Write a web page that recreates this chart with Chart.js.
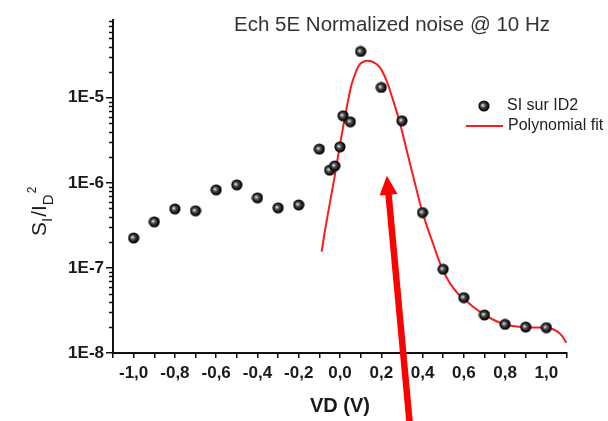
<!DOCTYPE html>
<html>
<head>
<meta charset="utf-8">
<title>Ech 5E Normalized noise @ 10 Hz</title>
<script src="https://cdn.jsdelivr.net/npm/chart.js@4.4.1/dist/chart.umd.min.js"></script>
<style>
  html, body { margin: 0; padding: 0; background: #ffffff; }
  #noiseChart { display: block; }
</style>
</head>
<body>
<canvas id="noiseChart" width="608" height="421"></canvas>
<script>
// ==========================================
// DATA
// ==========================================

// measured points: SI sur ID2
const vd = [-1.0, -0.9, -0.8, -0.7, -0.6, -0.5, -0.4, -0.3, -0.2, -0.1, -0.05, -0.025, 0.0, 0.015, 0.05, 0.1, 0.2, 0.3, 0.4, 0.5, 0.6, 0.7, 0.8, 0.9, 1.0];
const siSurId2 = [2.25e-7, 3.48e-7, 4.94e-7, 4.69e-7, 8.27e-7, 9.47e-7, 6.66e-7, 5.08e-7, 5.5e-7, 2.49e-6, 1.41e-6, 1.58e-6, 2.65e-6, 6.14e-6, 5.22e-6, 3.5e-5, 1.32e-5, 5.36e-6, 4.48e-7, 9.64e-8, 4.48e-8, 2.8e-8, 2.17e-8, 2.02e-8, 1.99e-8];

// polynomial fit curve (sampled along the drawn line)
const fitVd = [-0.089, -0.073, -0.049, -0.025, -0.001, 0.024, 0.043, 0.057, 0.077, 0.096,
    0.116, 0.135, 0.154, 0.174, 0.193, 0.212, 0.227, 0.241, 0.261, 0.282,
    0.300, 0.319, 0.338, 0.358, 0.377, 0.400, 0.416, 0.435, 0.455, 0.474,
    0.497, 0.522, 0.547, 0.571, 0.596, 0.643, 0.698, 0.750, 0.798, 0.847,
    0.899, 0.944, 0.995, 1.026, 1.050, 1.074, 1.097];
const fitSi = [1.555e-7, 2.72e-7, 5.82e-7, 1.225e-6, 2.72e-6, 5.98e-6, 1.03e-5, 1.46e-5, 2.02e-5, 2.48e-5,
    2.67e-5, 2.72e-5, 2.67e-5, 2.51e-5, 2.27e-5, 1.89e-5, 1.56e-5, 1.24e-5, 8.74e-6, 5.98e-6,
    4.09e-6, 2.65e-6, 1.72e-6, 1.11e-6, 7.22e-7, 4.47e-7, 3.38e-7, 2.48e-7, 1.81e-7, 1.33e-7,
    9.65e-8, 7.32e-8, 5.9e-8, 5.01e-8, 4.44e-8, 3.52e-8, 2.84e-8, 2.41e-8, 2.18e-8, 2.06e-8,
    2.01e-8, 1.995e-8, 1.984e-8, 1.93e-8, 1.81e-8, 1.61e-8, 1.32e-8];

// tick labels
const xLabelValues = [-1.0, -0.8, -0.6, -0.4, -0.2, 0.0, 0.2, 0.4, 0.6, 0.8, 1.0];
const xTickLabels = ['-1,0', '-0,8', '-0,6', '-0,4', '-0,2', '0,0', '0,2', '0,4', '0,6', '0,8', '1,0'];
const yDecades = [1e-8, 1e-7, 1e-6, 1e-5];
const yTickLabels = ['1E-8', '1E-7', '1E-6', '1E-5'];

const seriesNames = ['SI sur ID2', 'Polynomial fit'];
const chartTitle = 'Ech 5E Normalized noise @ 10 Hz';
const xTitle = 'VD (V)';

// red arrow annotation, in data coordinates
const arrowFrom = { x: 0.338, y: 1.46e-9 };
const arrowTo = { x: 0.227, y: 1.21e-6 };

const FONT = "'Liberation Sans', Arial, sans-serif";
const RED = '#ff1a1a';

// ==========================================
// POINT STYLE (shaded black ball)
// ==========================================

const makeBall = () => {
    const c = document.createElement('canvas');
    c.width = 12;
    c.height = 12;
    const g = c.getContext('2d');
    const grad = g.createRadialGradient(4.6, 5.2, 0.3, 6, 6, 6);
    grad.addColorStop(0, '#e6e6e6');
    grad.addColorStop(0.3, '#5a5a5a');
    grad.addColorStop(0.7, '#111111');
    grad.addColorStop(1, '#000000');
    g.fillStyle = grad;
    g.beginPath();
    g.arc(6, 6, 5.6, 0, Math.PI * 2);
    g.fill();
    return c;
};
const ball = makeBall();

const isDecade = (v) => yDecades.some(d => Math.abs(v / d - 1) < 1e-6);

// ==========================================
// EXTRA DRAWING: titles, legend, minor ticks, arrow
// ==========================================

const decorations = {
    id: 'decorations',
    afterDraw(chart) {
        const ctx = chart.ctx;
        const xs = chart.scales.x;
        const ys = chart.scales.y;
        const left = chart.chartArea.left;

        ctx.save();

        // minor ticks on the log axis
        ctx.strokeStyle = '#111';
        ctx.lineWidth = 1.5;
        ys.ticks.forEach(t => {
            if (isDecade(t.value)) return;
            const y = Math.round(ys.getPixelForValue(t.value)) + 0.5;
            ctx.beginPath();
            ctx.moveTo(left - 4, y);
            ctx.lineTo(left, y);
            ctx.stroke();
        });

        // title
        ctx.fillStyle = '#333';
        ctx.font = '20.5px ' + FONT;
        ctx.textAlign = 'center';
        ctx.textBaseline = 'middle';
        ctx.fillText(chartTitle, 392, 25);

        // x axis title
        ctx.fillStyle = '#1a1a1a';
        ctx.font = 'bold 20px ' + FONT;
        ctx.fillText(xTitle, (chart.chartArea.left + chart.chartArea.right) / 2, 406);

        // y axis title  S_I / I_D ^2 (rotated)
        ctx.save();
        ctx.translate(46, 236);
        ctx.rotate(-Math.PI / 2);
        ctx.textAlign = 'left';
        ctx.textBaseline = 'alphabetic';
        let px = 0;
        const part = (txt, size, dy) => {
            ctx.font = size + 'px ' + FONT;
            ctx.fillText(txt, px, dy);
            px += ctx.measureText(txt).width;
        };
        part('S', 21, 0);
        part('I', 15, 6);
        px += 1;
        part('/', 21, 0);
        part('I', 21, 0);
        part('D', 15, 7);
        px += 1;
        part('2', 12, -10);
        ctx.restore();

        // legend
        ctx.drawImage(ball, 484 - 6, 106 - 6);
        ctx.strokeStyle = RED;
        ctx.lineWidth = 2;
        ctx.beginPath();
        ctx.moveTo(466, 126);
        ctx.lineTo(503, 126);
        ctx.stroke();
        ctx.fillStyle = '#222';
        ctx.font = '16px ' + FONT;
        ctx.textAlign = 'left';
        ctx.textBaseline = 'middle';
        ctx.fillText(seriesNames[0], 507, 106);
        ctx.fillText(seriesNames[1], 508, 126);

        // red arrow
        const x0 = xs.getPixelForValue(arrowFrom.x);
        const y0 = ys.getPixelForValue(arrowFrom.y);
        const x1 = xs.getPixelForValue(arrowTo.x);
        const y1 = ys.getPixelForValue(arrowTo.y);
        const len = Math.hypot(x1 - x0, y1 - y0);
        const ux = (x1 - x0) / len;
        const uy = (y1 - y0) / len;
        const headLen = 19;
        const headHalf = 9;
        const bx = x1 - ux * headLen;
        const by = y1 - uy * headLen;
        ctx.strokeStyle = '#ff0000';
        ctx.lineWidth = 6.5;
        ctx.lineCap = 'butt';
        ctx.beginPath();
        ctx.moveTo(x0, y0);
        ctx.lineTo(bx + ux * 2, by + uy * 2);
        ctx.stroke();
        ctx.fillStyle = '#ff0000';
        ctx.beginPath();
        ctx.moveTo(x1, y1);
        ctx.lineTo(bx - uy * headHalf, by + ux * headHalf);
        ctx.lineTo(bx + uy * headHalf, by - ux * headHalf);
        ctx.closePath();
        ctx.fill();

        ctx.restore();
    }
};

// ==========================================
// CHART
// ==========================================

const ctx = document.getElementById('noiseChart').getContext('2d');

new Chart(ctx, {
    type: 'scatter',
    data: {
        datasets: [
            {
                label: seriesNames[1],
                data: fitVd.map((x, i) => ({ x: x, y: fitSi[i] })),
                showLine: true,
                borderColor: RED,
                borderWidth: 2,
                tension: 0.3,
                pointRadius: 0,
                fill: false,
                order: 2
            },
            {
                label: seriesNames[0],
                data: vd.map((x, i) => ({ x: x, y: siSurId2[i] })),
                pointStyle: ball,
                pointRadius: 6,
                order: 1
            }
        ]
    },
    options: {
        responsive: false,
        animation: false,
        layout: {
            padding: { top: 20, right: 41, left: 0, bottom: 0 }
        },
        plugins: {
            legend: { display: false },
            tooltip: { enabled: false }
        },
        scales: {
            x: {
                type: 'linear',
                min: -1.1,
                max: 1.1,
                afterBuildTicks: (scale) => {
                    const t = [];
                    for (let i = -11; i <= 11; i++) t.push({ value: i / 10 });
                    scale.ticks = t;
                },
                afterFit: (scale) => { scale.height = 68; },
                border: { display: true, color: '#111', width: 2 },
                grid: {
                    drawOnChartArea: false,
                    drawTicks: true,
                    tickLength: 5,
                    color: '#111',
                    lineWidth: 1.5
                },
                ticks: {
                    autoSkip: false,
                    maxRotation: 0,
                    padding: 5,
                    color: '#1a1a1a',
                    font: { family: FONT, size: 17, weight: 'bold' },
                    callback: (value) => {
                        const i = xLabelValues.findIndex(v => Math.abs(v - value) < 1e-6);
                        return i >= 0 ? xTickLabels[i] : '';
                    }
                }
            },
            y: {
                type: 'logarithmic',
                min: 1e-8,
                max: 8.2e-5,
                afterBuildTicks: (scale) => {
                    const t = [];
                    yDecades.forEach(d => {
                        for (let k = 1; k <= 9; k++) {
                            const v = k * d;
                            if (v <= scale.max * 1.0001) t.push({ value: v });
                        }
                    });
                    scale.ticks = t;
                },
                afterFit: (scale) => { scale.width = 113; },
                border: { display: true, color: '#111', width: 2 },
                grid: {
                    drawOnChartArea: false,
                    drawTicks: true,
                    tickLength: 7,
                    lineWidth: 1.5,
                    color: (c) => (c.tick && isDecade(c.tick.value)) ? '#111' : 'rgba(0,0,0,0)'
                },
                ticks: {
                    autoSkip: false,
                    padding: 2,
                    color: '#1a1a1a',
                    font: { family: FONT, size: 17, weight: 'bold' },
                    callback: (value) => {
                        const i = yDecades.findIndex(d => Math.abs(value / d - 1) < 1e-6);
                        return i >= 0 ? yTickLabels[i] : '';
                    }
                }
            }
        }
    },
    plugins: [decorations]
});
</script>
</body>
</html>
